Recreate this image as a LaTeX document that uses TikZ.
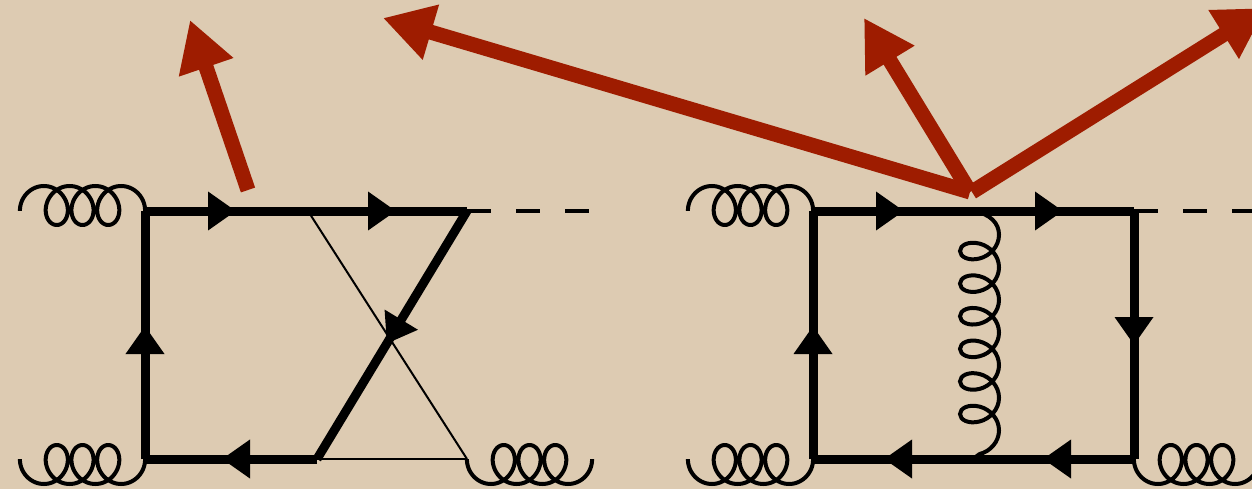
\documentclass[tikz,border=0pt]{standalone}
\usepackage{amsmath}
\usetikzlibrary{arrows.meta, calc, decorations.pathmorphing, decorations.markings}

\definecolor{paper}{RGB}{221,203,178}
\definecolor{brick}{RGB}{158,28,0}

% three loops between two points on a row, #3=1 for arcs above, #3=-1 for arcs below
\newcommand{\gluonrow}[3]{
  \draw[gluonline] let \p1=(#1), \p2=(#2), \n1={\x2-\x1-32.6pt} in
    plot[variable=\t, domain=-106:1186, samples=220, smooth]
    ({\x1+16.3pt+(\t+106)/1292*\n1+17pt*sin(\t)},{\y1+#3*(5.5pt+19.5pt*cos(\t))});
}

\begin{document}
\begin{tikzpicture}[
    x=1pt, y=-1pt,
    fermion/.style={line width=9pt, color=black, line cap=butt},
    thinline/.style={line width=2pt, color=black},
    scalar/.style={line width=4pt, color=black, dash pattern=on 24pt off 25pt},
    gluonline/.style={line width=4pt, color=black},
    vgluon/.style={line width=4pt, color=black, decorate, decoration={coil, aspect=0.8, segment length=32.6pt, amplitude=19.5pt, raise=6.5pt}},
    tipat/.style={postaction={decorate, decoration={markings, mark=at position #1 with {\arrow{Triangle[length=28pt, width=37pt]}}}}},
    momentum/.style={-{Triangle[length=50pt, width=54pt]}, line width=15pt, color=brick}
]
\useasboundingbox[fill=paper] (0,0) rectangle (1252,489);
% left diagram
\coordinate (a1) at (145,211);
\coordinate (a2) at (467,211);
\coordinate (a3) at (467,459);
\coordinate (a4) at (317,459);
\coordinate (a5) at (145,459);
\coordinate (a6) at (308,211);
\coordinate (ga) at (20,211);
\coordinate (gb) at (20,459);
\coordinate (gc) at (592,459);
\coordinate (ha) at (592,211);
\draw[scalar] (a2) -- (ha);
\draw[thinline] (a6) -- (a3);
\draw[thinline] (a4) -- (a3);
\draw[fermion, tipat=91pt, tipat=251pt] (a1) -- (a2);
\draw[fermion, tipat=155pt] (a2) -- (a4);
\draw[fermion, tipat=95pt] (a4) -- (a5);
\draw[fermion, tipat=133pt] (a5) -- (a1);
\gluonrow{ga}{a1}{1}
\gluonrow{gb}{a5}{-1}
\gluonrow{a3}{gc}{-1}
% right diagram
\coordinate (b1) at (813,211);
\coordinate (b2) at (973,211);
\coordinate (b3) at (1134,211);
\coordinate (b4) at (1134,459);
\coordinate (b5) at (973,459);
\coordinate (b6) at (813,459);
\coordinate (gd) at (688,211);
\coordinate (ge) at (688,459);
\coordinate (gf) at (1259,459);
\coordinate (hb) at (1259,211);
\draw[scalar] (b3) -- (hb);
\draw[fermion, tipat=91pt] (b1) -- (b2);
\draw[fermion, tipat=90pt] (b2) -- (b3);
\draw[fermion, tipat=134pt] (b3) -- (b4);
\draw[fermion, tipat=91pt] (b4) -- (b5);
\draw[fermion, tipat=89pt] (b5) -- (b6);
\draw[fermion, tipat=133pt] (b6) -- (b1);
\gluonrow{gd}{b1}{1}
\gluonrow{ge}{b6}{-1}
\gluonrow{b4}{gf}{-1}
\draw[vgluon] (b2) -- (b5);
% outgoing momenta
\coordinate (m1) at (248,190);
\coordinate (t1) at (190,20);
\coordinate (m2) at (970,192);
\coordinate (t2) at (383,18);
\coordinate (t3) at (864,18);
\coordinate (m3) at (972,192);
\coordinate (t4) at (1266,8);
\draw[momentum] (m1) -- (t1);
\draw[momentum] (m2) -- (t2);
\draw[momentum] (m2) -- (t3);
\draw[momentum] (m3) -- (t4);
\end{tikzpicture}
\end{document}
